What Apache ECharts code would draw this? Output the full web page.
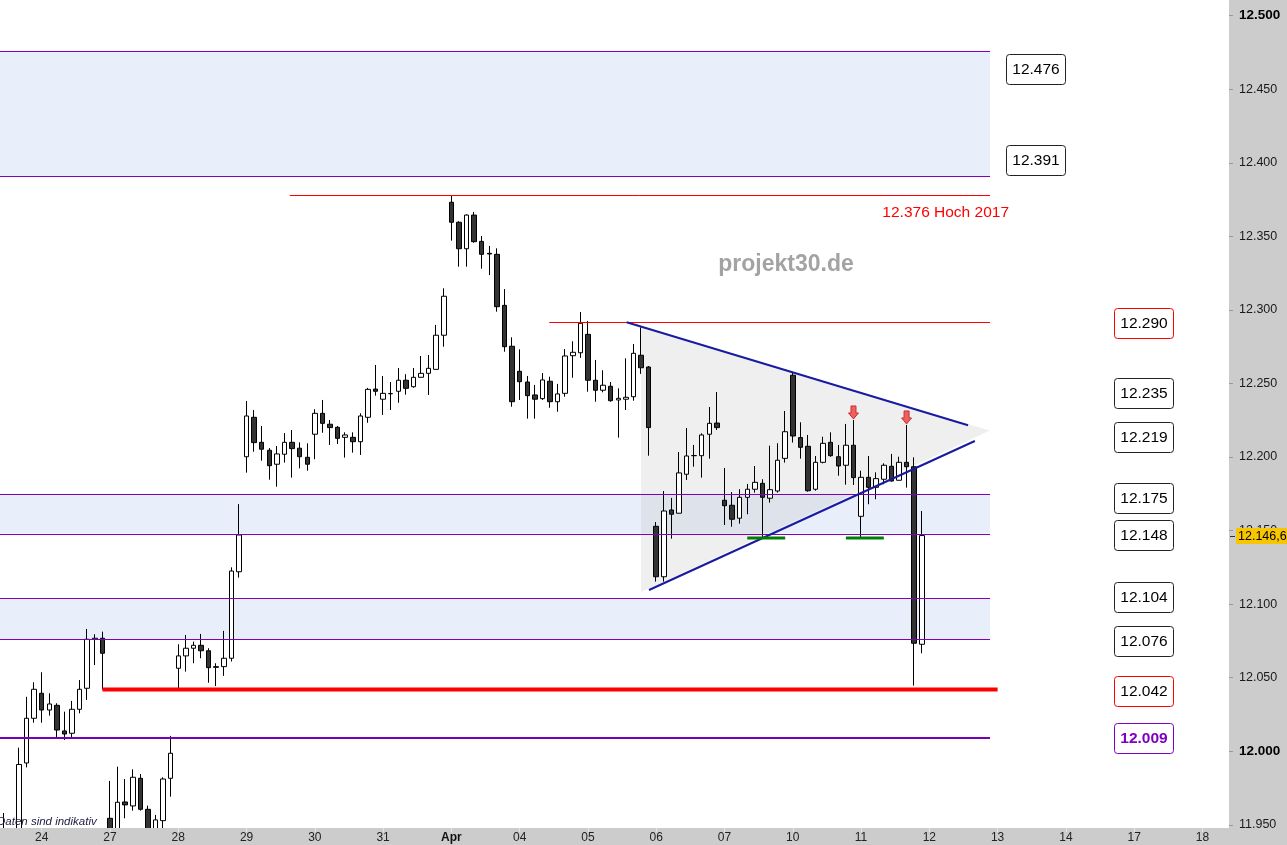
<!DOCTYPE html>
<html><head><meta charset="utf-8">
<script src="https://cdn.jsdelivr.net/npm/echarts@6/dist/echarts.min.js"></script>
<style>html,body{margin:0;padding:0;background:#ccc}#c{width:1287px;height:845px}</style>
</head><body><div id="c"></div>
<script>
// ---------- data ----------
const dayLabels = ['24','27','28','29','30','31','Apr','04','05','06','07','10','11','12','13','14','17','18'];
const SLOTS_PER_DAY = 9, FIRST_DAY_SLOT = 5, TOTAL_SLOTS = 162;

const opens = [11940,11938,11940,11992,12022.4,12039.4,12028,12031.2,12013.8,12012.2,
12028.5,12042.8,12076.1,12076.8,11954.4,11940,11965.5,11962.8,11981.6,11960.5,
11940,11952.8,11981.6,12056.4,12064.8,12070,12072,12068.3,12057,12057.5,
12063.2,12122,12200.2,12227,12210,12204.6,12195.1,12201.9,12210,12206,
12199.8,12215.5,12229.7,12222.3,12220.2,12213.4,12213.4,12210.4,12227,12246.2,
12239.3,12243,12244.7,12252.2,12247.8,12254.2,12256.9,12259.6,12282.8,12373.2,
12359.6,12341.6,12364.5,12346.6,12338.5,12337.8,12303.1,12275.3,12258.3,12251,
12242.2,12239.7,12251.5,12237.6,12243.3,12268.9,12270.9,12283.4,12252.2,12245.4,
12248.1,12238.8,12239.3,12241,12269.2,12261.2,12152.9,12118.6,12164,12161.8,
12188.3,12200.9,12200.9,12215.5,12223.1,12170.6,12167.2,12158.4,12172.6,12178.1,
12182.1,12172,12176.9,12199.1,12255.6,12213.2,12207.3,12178.1,12196.4,12210,
12200.2,12194.4,12208,12159.7,12186.2,12179.4,12184.9,12193.7,12184.2,12196.4,
12193.4,12072.7];
const closes = [11945,11942,11991,12022.4,12042.1,12028,12032.1,12014.4,12011.7,12028.5,
12042.1,12076.1,12076.8,12066.6,11940,11965.3,11963.5,11982.3,11960.5,11940,
11953.3,11981.1,11998.6,12064.8,12070,12072,12068.3,12056.8,12057.5,12063.2,
12122.5,12147,12227.9,12209.8,12205.3,12194.1,12202.1,12210,12205.7,12200.2,
12195.1,12229.7,12222.9,12220,12212.7,12215,12210.4,12227.9,12246,12244.7,
12243.3,12243.2,12252.2,12246.7,12254.2,12256.9,12260.3,12282.8,12309.3,12359.6,
12341.6,12364.5,12346.4,12337.8,12338,12302.2,12275,12237.6,12251.2,12241.7,
12239.3,12252.4,12237.6,12242.9,12268.7,12271.2,12290.9,12252.2,12245.4,12248.8,
12238.3,12239.9,12240.6,12270.5,12260.7,12220,12118.6,12163.3,12161.1,12189.2,
12200.7,12201,12215,12222.9,12220,12166.9,12157.7,12172.6,12178.1,12182.8,
12172.6,12177.8,12197.8,12217.2,12214.3,12206.6,12177.1,12196.4,12209.3,12200.9,
12193.9,12208,12186,12186.2,12179.4,12185.3,12194.4,12183.7,12196.4,12193.4,
12073.4,12146.6];
const lows = [11930,11930,11935,11989,12019.4,12019.4,12024.2,12009.5,12007.6,12009.5,
12025.8,12034.9,12058.6,12042,11935,11935,11954.4,11959.6,11959.6,11935,
11935,11945,11969.1,12042.8,12054.1,12059.8,12063.2,12046.6,12044.3,12051.2,
12061,12118,12189.4,12203.6,12197.5,12184.6,12179.8,12196.2,12186,12192.3,
12190.7,12198.5,12216.5,12208.2,12208.9,12199.6,12203,12201.4,12223.3,12241.7,
12228.6,12232,12236.9,12242.4,12247.1,12254,12242.2,12259.6,12275,12347.1,
12329.4,12329.4,12345.7,12328,12323.7,12298.8,12271.6,12234.2,12238.8,12226.1,
12226.1,12238.8,12233.5,12230.8,12241,12253.9,12267.4,12244.4,12237.6,12244,
12237.6,12213.2,12232,12238.3,12256.5,12200.9,12115.3,12115.3,12144.5,12161.7,
12184.4,12193.4,12186,12198.9,12218.4,12153.8,12152.6,12154.7,12161.1,12175.8,
12145.2,12169,12175.8,12196.2,12209.8,12198.9,12176.4,12177.1,12195.7,12200.2,
12187.3,12181.2,12181,12145.2,12167.9,12171.3,12181.5,12183.3,12184,12179.2,
12044.6,12066.6];
const highs = [11958,11946,12002.4,12037,12046.9,12053.7,12039.4,12032.6,12026.9,12034.2,
12048.4,12083.1,12079.5,12081.3,11979.8,11989.5,11981.1,11987.7,11984.5,11963,
11956.7,11982.3,12010.4,12072.7,12079,12074.5,12079.7,12070,12059.8,12081.8,
12125,12168,12238.1,12232,12221.1,12206.1,12207.5,12216.3,12218.4,12210,
12209.3,12232.5,12238.8,12225.2,12221.1,12216.8,12216.8,12229.7,12247,12262.6,
12255.1,12251,12260.5,12256.3,12260.5,12268.7,12269.4,12289.8,12314.7,12378,
12360.3,12365,12366.6,12350.3,12343.5,12341.9,12314.2,12281.4,12273.2,12255.1,
12249,12257.1,12254.6,12249.7,12273.4,12278.7,12298.6,12292.5,12266,12259,
12251,12246.7,12267.1,12276.8,12288.2,12261.9,12155.8,12176.9,12172.2,12203.4,
12219.7,12208.2,12216.1,12234,12244.2,12192.5,12176.2,12178.1,12181.7,12193.9,
12184.9,12207.7,12209.4,12231.3,12257.3,12223.6,12215,12200.7,12213.8,12216.8,
12208.2,12222.5,12225.2,12190.7,12200.7,12189.6,12195.7,12202.1,12200.2,12221.8,
12199.8,12163.3];

const yTickMin = 11947.8, yTickMax = 12510.7;
const zoneBands = [[12391,12476],[12148,12175],[12076,12104]];
const purpleLevels = [12476,12391,12175,12148,12104,12076];
const supportLevel = 12009;
const redSupport = [13, 12042, 131];          // [fromSlot, value, toSlot]
const resistanceLines = [[37.7, 12378, 130],[71.9, 12291.5, 130]];
const highLabel = '12.376 Hoch 2017';
const trendLines = [[82.1,12291.6,127.1,12221.6],[85.05,12109.6,128.0,12210.9]];
const triangleZone = [[84,12288],[130,12218],[84,12108.3]];
const greenMarks = [[98,103,12145],[111,116,12145]];
const arrowSlots = [112,119];
const boxValues = [12476,12391,12290,12235,12219,12175,12148,12104,12076,12042,12009];
const lastPrice = 12146.6;
const LEVEL_END = 130;

// ---------- helpers ----------
const FONT = '"Liberation Sans", Arial, sans-serif';
function deFmt(v){ const s = String(Math.round(v)); return s.slice(0, s.length-3) + '.' + s.slice(-3); }
const candleData = opens.map((o,i)=>[i, o, closes[i], lows[i], highs[i]]);
const slotLabels = Array.from({length: TOTAL_SLOTS}, (_, i) => {
  const k = i - FIRST_DAY_SLOT;
  return (k >= 0 && k % SLOTS_PER_DAY === 0 && k / SLOTS_PER_DAY < dayLabels.length) ? dayLabels[k / SLOTS_PER_DAY] : '';
});
const crisp = y => Math.round(y) + 0.5;

// box layout (style only)
const boxStyle = {
  12476:{nudge:18, col:'upper'}, 12391:{nudge:-16, col:'upper'},
  12290:{nudge:-1.5, stroke:'#ff0000'}, 12235:{nudge:-12.5}, 12219:{nudge:8},
  12175:{nudge:4}, 12148:{nudge:1}, 12104:{nudge:-1}, 12076:{nudge:2},
  12042:{nudge:2, stroke:'#ff0000'}, 12009:{nudge:0, stroke:'#8000c0', text:'#8000c0', bold:true}
};

const chart = echarts.init(document.getElementById('c'), null, {width:1287, height:845});

const base = {xAxisIndex:0, yAxisIndex:0, silent:true, animation:false};

chart.setOption({
  animation:false,
  backgroundColor:'#cccccc',
  grid:{left:0, right:58, top:0, bottom:17, show:true, backgroundColor:'#ffffff', borderWidth:0},
  xAxis:[
    {type:'value', min:-0.5, max:TOTAL_SLOTS-0.5, show:false, axisLine:{onZero:false}},
    {type:'category', data:slotLabels, boundaryGap:true, position:'bottom', z:10,
     axisLine:{show:false, onZero:false},
     axisTick:{show:true, alignWithLabel:true, length:4, interval:(i,v)=>v!=='', lineStyle:{color:'#e4e4e4'}},
     axisLabel:{interval:0, margin:4, fontSize:12, color:'#222', fontFamily:FONT,
       formatter:v=> v==='Apr' ? '{b|Apr}' : v,
       rich:{b:{fontWeight:'bold', fontSize:12, color:'#111', fontFamily:FONT}}},
     splitLine:{show:false}}
  ],
  yAxis:{type:'value', position:'right', min:yTickMin, max:yTickMax, splitNumber:11, z:10,
    splitLine:{show:false}, axisLine:{show:false, onZero:false},
    axisTick:{show:true, length:4, lineStyle:{color:'#999'}},
    axisLabel:{margin:10, fontSize:12.5, color:'#1a1a1a', fontFamily:FONT, showMinLabel:false, showMaxLabel:false,
      formatter:v=> (Math.round(v) % 500 === 0) ? '{b|'+deFmt(v)+'}' : deFmt(v),
      rich:{b:{fontWeight:'bold', fontSize:13.5, color:'#000', fontFamily:FONT}}}},
  graphic:[
    {type:'text', x:786, y:265, z:1, style:{text:'projekt30.de', fill:'#a3a3a3', font:'bold 23px '+FONT, align:'center', verticalAlign:'middle'}},
    {type:'rect', z:8, shape:{x:0, y:828, width:1287, height:17}, style:{fill:'#cccccc'}},
    {type:'text', x:-3, y:822, z:9, style:{text:'Daten sind indikativ', fill:'#222244', font:'italic 11.5px '+FONT, align:'left', verticalAlign:'middle'}}
  ],
  series:[
    // zone bands
    Object.assign({type:'custom', z:1, data:zoneBands.map(b=>[LEVEL_END,b[0],b[1]]),
      renderItem(params, api){
        const cs = params.coordSys;
        const lo = api.coord([api.value(0), api.value(1)]);
        const hi = api.coord([api.value(0), api.value(2)]);
        return {type:'rect', shape:{x:cs.x, y:hi[1], width:lo[0]-cs.x, height:lo[1]-hi[1]}, style:{fill:'#e8eefa'}};
      }}, base),
    // triangle zone
    Object.assign({type:'custom', z:1.5, data:[[0]],
      renderItem(params, api){
        const pts = triangleZone.map(p=>api.coord(p));
        return {type:'polygon', shape:{points:pts}, style:{fill:'rgba(190,190,190,0.24)'}};
      }}, base),
    // candles
    Object.assign({type:'candlestick', z:2, data:candleData, barWidth:5, clip:true,
      itemStyle:{color:'#ffffff', color0:'#333333', borderColor:'#000000', borderColor0:'#000000', borderColorDoji:'#000000', borderWidth:1}}, base),
    // purple levels
    Object.assign({type:'custom', z:3, data:purpleLevels.map(v=>[LEVEL_END,v]),
      renderItem(params, api){
        const cs = params.coordSys; const p = api.coord([api.value(0), api.value(1)]);
        const y = crisp(p[1]);
        return {type:'line', shape:{x1:cs.x, y1:y, x2:p[0], y2:y}, style:{stroke:'#8000c0', lineWidth:1}};
      }}, base),
    // support 12009
    Object.assign({type:'custom', z:3, data:[[LEVEL_END, supportLevel]],
      renderItem(params, api){
        const cs = params.coordSys; const p = api.coord([api.value(0), api.value(1)]);
        return {type:'line', shape:{x1:cs.x, y1:p[1], x2:p[0], y2:p[1]}, style:{stroke:'#7a00b8', lineWidth:2}};
      }}, base),
    // red thick support
    Object.assign({type:'custom', z:3, data:[redSupport],
      renderItem(params, api){
        const a = api.coord([api.value(0), api.value(1)]); const b = api.coord([api.value(2), api.value(1)]);
        return {type:'line', shape:{x1:a[0], y1:a[1], x2:b[0], y2:b[1]}, style:{stroke:'#ff0000', lineWidth:4}};
      }}, base),
    // thin red resistance
    Object.assign({type:'custom', z:3, data:resistanceLines,
      renderItem(params, api){
        const a = api.coord([api.value(0), api.value(1)]); const b = api.coord([api.value(2), api.value(1)]);
        const y = crisp(a[1]);
        const children = [{type:'line', shape:{x1:a[0], y1:y, x2:b[0], y2:y}, style:{stroke:'#ff0000', lineWidth:1}}];
        if (params.dataIndex === 0) children.push({type:'text', style:{text:highLabel, x:b[0]+19, y:y+17, align:'right', verticalAlign:'middle', fill:'#ff0000', font:'15.5px '+FONT}});
        return {type:'group', children};
      }}, base),
    // blue trend lines
    Object.assign({type:'custom', z:4, data:trendLines,
      renderItem(params, api){
        const a = api.coord([api.value(0), api.value(1)]); const b = api.coord([api.value(2), api.value(3)]);
        return {type:'line', shape:{x1:a[0], y1:a[1], x2:b[0], y2:b[1]}, style:{stroke:'#1a1aa0', lineWidth:2}};
      }}, base),
    // green marks
    Object.assign({type:'custom', z:4, data:greenMarks,
      renderItem(params, api){
        const a = api.coord([api.value(0), api.value(2)]); const b = api.coord([api.value(1), api.value(2)]);
        return {type:'line', shape:{x1:a[0], y1:a[1], x2:b[0], y2:b[1]}, style:{stroke:'#008000', lineWidth:3}};
      }}, base),
    // red arrows
    Object.assign({type:'custom', z:5, data:arrowSlots.map(s=>[s, highs[s]]),
      renderItem(params, api){
        const p = api.coord([api.value(0), api.value(1)]);
        const tx = p[0], ty = p[1]-1;
        const pts = [[tx-2.5,ty-13],[tx+2.5,ty-13],[tx+2.5,ty-6],[tx+5,ty-6],[tx,ty],[tx-5,ty-6],[tx-2.5,ty-6]];
        return {type:'polygon', shape:{points:pts}, style:{fill:'#f06060', stroke:'#c83030', lineWidth:1}};
      }}, base),
    // level boxes
    Object.assign({type:'custom', z:6, clip:false, data:boxValues.map(v=>[boxStyle[v].col==='upper'?136.1:150.3, v]),
      renderItem(params, api){
        const v = api.value(1); const st = boxStyle[v];
        const p = api.coord([api.value(0), v]);
        const cx = Math.round(p[0]), cy = Math.round(p[1] + st.nudge);
        return {type:'group', children:[
          {type:'rect', shape:{x:cx-29.5, y:cy-14.5, width:59, height:30, r:3}, style:{fill:'#ffffff', stroke:st.stroke||'#222222', lineWidth:1}},
          {type:'text', style:{text:deFmt(v), x:cx, y:cy+1, align:'center', verticalAlign:'middle', fill:st.text||'#000000', font:(st.bold?'bold ':'')+'15.5px '+FONT}}
        ]};
      }}, base),
    // last price label on axis
    Object.assign({type:'custom', z:20, clip:false, data:[[opens.length-1, lastPrice]],
      renderItem(params, api){
        const cs = params.coordSys; const p = api.coord([api.value(0), api.value(1)]);
        const x0 = cs.x + cs.width; const y = Math.round(p[1]);
        return {type:'group', children:[
          {type:'line', shape:{x1:x0+1, y1:y+0.5, x2:x0+6, y2:y+0.5}, style:{stroke:'#333', lineWidth:1}},
          {type:'rect', shape:{x:x0+7, y:y-8, width:60, height:16}, style:{fill:'#f7c600'}},
          {type:'text', style:{text:'12.146,6', x:x0+9, y:y+0.5, align:'left', verticalAlign:'middle', fill:'#000', font:'12.5px '+FONT}}
        ]};
      }}, base)
  ]
});
</script></body></html>
